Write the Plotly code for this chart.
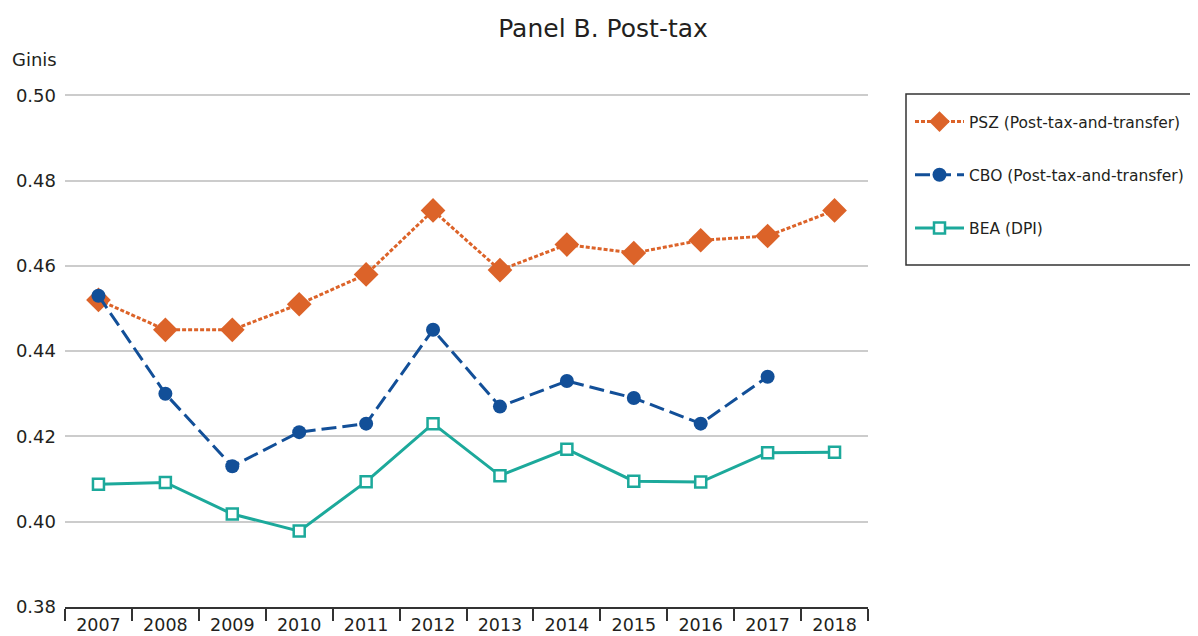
import plotly.graph_objects as go

years = ["2007", "2008", "2009", "2010", "2011", "2012", "2013", "2014", "2015", "2016", "2017", "2018"]
psz = [0.452, 0.445, 0.445, 0.451, 0.458, 0.473, 0.459, 0.465, 0.463, 0.466, 0.467, 0.473]
cbo = [0.453, 0.430, 0.413, 0.421, 0.423, 0.445, 0.427, 0.433, 0.429, 0.423, 0.434, None]
bea = [0.4088, 0.4092, 0.4018, 0.3978, 0.4094, 0.4230, 0.4108, 0.4170, 0.4095, 0.4093, 0.4162, 0.4163]
y_ticks = [0.38, 0.40, 0.42, 0.44, 0.46, 0.48, 0.50]

ORANGE = "#DC6329"
BLUE = "#124F98"
TEAL = "#1CA99B"
TXT = "#231F20"
FONT = "DejaVu Sans"

# figure is drawn inside an 8px page margin
W, H = 1190, 628
L, R, T, B = 57, 330, 86, 29
PW, PH = W - L - R, H - T - B


def px(fx):
    return (fx - L) / PW


def py(fy):
    return (H - B - fy) / PH


fig = go.Figure()
fig.add_trace(go.Scatter(
    x=years, y=psz, name="PSZ (Post-tax-and-transfer)", mode="lines+markers",
    line=dict(color=ORANGE, width=3, dash="4px,2px"),
    marker=dict(symbol="diamond", size=19, color=ORANGE),
    legendgroup="a"))
fig.add_trace(go.Scatter(
    x=years, y=cbo, name="CBO (Post-tax-and-transfer)", mode="lines+markers",
    line=dict(color=BLUE, width=3, dash="15px,6px"),
    marker=dict(symbol="circle", size=14, color=BLUE),
    legendgroup="b"))
fig.add_trace(go.Scatter(
    x=years, y=bea, name="BEA (DPI)", mode="lines+markers",
    line=dict(color=TEAL, width=3),
    marker=dict(symbol="square", size=11, color="white", line=dict(color=TEAL, width=2.5)),
    legendgroup="c"))

fig.update_layout(
    width=W, height=H,
    margin=dict(l=L, r=R, t=T, b=B, autoexpand=False),
    paper_bgcolor="white", plot_bgcolor="white",
    font=dict(family=FONT, size=18, color=TXT),
    title=dict(text="Panel B. Post-tax", x=0.5, xanchor="center", y=1 - 20 / H, yanchor="middle",
               font=dict(family=FONT, size=25, color=TXT)),
    showlegend=True,
    legend=dict(x=px(902), xanchor="left", y=py(97), yanchor="top",
                borderwidth=0, bgcolor="rgba(0,0,0,0)",
                font=dict(family=FONT, size=15.5, color=TXT),
                tracegroupgap=30, traceorder="grouped", itemwidth=49),
    xaxis=dict(type="category", showgrid=False, showline=True, linecolor="#333333", linewidth=2,
               ticks="outside", tickson="boundaries", ticklen=12, tickwidth=2, tickcolor="#333333",
               tickfont=dict(size=17.5), ticklabelstandoff=1, range=[-0.5, 11.5],
               automargin=False, fixedrange=True),
    yaxis=dict(range=[0.38, 0.5003], tickvals=y_ticks, tickformat=".2f", showgrid=True,
               gridcolor="#CCCCCC", gridwidth=2, zeroline=False, showline=False, ticks="",
               tickfont=dict(size=18), ticklabelstandoff=8, automargin=False, fixedrange=True),
    shapes=[dict(type="rect", xref="paper", yref="paper",
                 x0=px(898), x1=px(1188), y0=py(257), y1=py(86),
                 line=dict(color="#333333", width=1.5), fillcolor="rgba(0,0,0,0)", layer="above")],
    annotations=[dict(text="Ginis", x=px(2), y=py(52), xref="paper", yref="paper",
                      xanchor="left", yanchor="middle", showarrow=False,
                      font=dict(family=FONT, size=18, color=TXT))],
)

fig.write_html("out.html")
